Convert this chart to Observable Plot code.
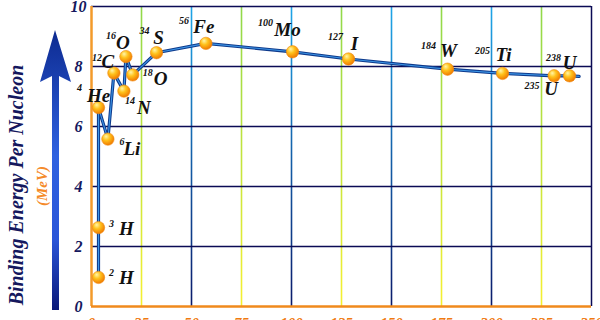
<!DOCTYPE html>
<html>
<head>
<meta charset="utf-8">
<script src="https://cdn.jsdelivr.net/npm/d3@7"></script>
<script src="https://cdn.jsdelivr.net/npm/@observablehq/plot@0.6"></script>
<style>
  html, body { margin: 0; padding: 0; background: #fff; overflow: hidden; }
  #chart svg { display: block; overflow: hidden; }
</style>
</head>
<body>
<div id="chart"></div>
<script>
// ---- data ----
const symbols     = ["H", "H", "He", "Li", "C", "N", "O", "O", "S", "Fe", "Mo", "I", "W", "Ti", "U", "U"];
const massNumbers = ["2", "3", "4", "6", "12", "14", "16", "18", "34", "56", "100", "127", "184", "205", "235", "238"];
const xValues     = [3.5, 3.5, 3.5, 8.2, 11.2, 16.2, 17.2, 20.6, 32.5, 57.2, 100.5, 128.5, 178, 205.5, 231.3, 239];
const yValues     = [0.97, 2.63, 6.63, 5.58, 7.78, 7.18, 8.33, 7.72, 8.46, 8.77, 8.49, 8.25, 7.91, 7.77, 7.69, 7.69];
const curveTailX  = [243.8];
const curveTailY  = [7.67];
const xTicks      = [0, 25, 50, 75, 100, 125, 150, 175, 200, 225, 250];
const yTicks      = [0, 2, 4, 6, 8, 10];
const greenGrid   = [25, 75, 125, 175, 225];
const blueGrid    = [50, 100, 150, 200];
const navyGridY   = [2, 4, 6, 8, 10];

// ---- label layout (pixel offsets from each dot) ----
const numOffsets = [[13,-5],[13,-4],[-19,-20],[14,3],[-17,-15],[6,10],[-15,-21],[15,-2],[-12,-22],[-22,-23],[-27,-29],[-13,-22],[-19,-23],[-20,-23],[-22,10],[-16,-18]];
const symOffsets = [[28,1],[28,1],[0,-12],[24,10],[-6,-11],[20,17],[-3,-14],[28,4],[2,-15],[-2,-16],[-5,-22],[6,-15],[1,-18],[1,-18],[-3,13],[0,-13]];

const idx = symbols.map((_, i) => i);
const lineX = xValues.concat(curveTailX);
const lineY = yValues.concat(curveTailY);
const lineIdx = lineX.map((_, i) => i);

const labelFont = "'Liberation Serif', 'DejaVu Serif', serif";
const navy = "#15185e";
const orange = "#f07a12";

const labelMarks = [];
idx.forEach(i => {
  labelMarks.push(Plot.text([i], {
    x: j => xValues[j], y: j => yValues[j], text: j => massNumbers[j],
    dx: numOffsets[i][0], dy: numOffsets[i][1],
    fontSize: 10, fontStyle: "italic", fontWeight: "bold", fill: "#111",
    fontFamily: labelFont, lineAnchor: "middle"
  }));
  labelMarks.push(Plot.text([i], {
    x: j => xValues[j], y: j => yValues[j], text: j => symbols[j],
    dx: symOffsets[i][0], dy: symOffsets[i][1],
    fontSize: 19, fontStyle: "italic", fontWeight: "bold", fill: "#111",
    fontFamily: labelFont, lineAnchor: "middle"
  }));
});

const chart = Plot.plot({
  width: 600,
  height: 320,
  marginLeft: 91,
  marginRight: 9,
  marginTop: 6,
  marginBottom: 14,
  style: {background: "#fff"},
  x: {domain: [0, 250], ticks: xTicks},
  y: {domain: [0, 10], ticks: yTicks},
  marks: [
    Plot.ruleX(greenGrid, {stroke: "url(#gridGreen)", strokeWidth: 1.6}),
    Plot.ruleX(blueGrid, {stroke: "url(#gridBlue)", strokeWidth: 1.6}),
    Plot.ruleY(navyGridY, {stroke: "#0b0b55", strokeWidth: 1.5}),
    Plot.ruleX([250], {stroke: "#0b0b55", strokeWidth: 1.5}),
    Plot.ruleX([0], {stroke: "#f39a2a", strokeWidth: 2.5}),
    Plot.ruleY([0], {stroke: "#f08a1c", strokeWidth: 2.5}),
    Plot.axisX({ticks: xTicks, tickSize: 0, tickPadding: 11, fill: orange, fontSize: 15,
      fontWeight: "bold", fontStyle: "italic", fontFamily: labelFont, label: null}),
    Plot.axisY({ticks: yTicks, tickSize: 0, tickPadding: 13, textAnchor: "middle", fill: navy,
      fontSize: 16, fontWeight: "bold", fontStyle: "italic", fontFamily: labelFont, label: null}),
    Plot.line(lineIdx, {x: i => lineX[i], y: i => lineY[i], stroke: "#0e3a8c", strokeWidth: 3.2}),
    Plot.line(lineIdx, {x: i => lineX[i], y: i => lineY[i], stroke: "#3d95e6", strokeWidth: 1.1}),
    Plot.dot(idx, {x: i => xValues[i], y: i => yValues[i], r: 6.2, fill: "url(#ball)", stroke: "#f08a10", strokeWidth: 0.6}),
    ...labelMarks
  ]
});

const svg = d3.select(chart);
const defs = svg.insert("defs", ":first-child");
const gGreen = defs.append("linearGradient").attr("id", "gridGreen")
  .attr("gradientUnits", "userSpaceOnUse").attr("x1", 0).attr("x2", 0).attr("y1", 6).attr("y2", 306);
gGreen.append("stop").attr("offset", "0%").attr("stop-color", "#8fd84a");
gGreen.append("stop").attr("offset", "100%").attr("stop-color", "#f6f030");
const gBlue = defs.append("linearGradient").attr("id", "gridBlue")
  .attr("gradientUnits", "userSpaceOnUse").attr("x1", 0).attr("x2", 0).attr("y1", 6).attr("y2", 306);
gBlue.append("stop").attr("offset", "0%").attr("stop-color", "#1fa6e8");
gBlue.append("stop").attr("offset", "100%").attr("stop-color", "#0a1a6a");
const ball = defs.append("radialGradient").attr("id", "ball")
  .attr("cx", "40%").attr("cy", "35%").attr("r", "65%").attr("fx", "35%").attr("fy", "28%");
ball.append("stop").attr("offset", "0%").attr("stop-color", "#fff6a8");
ball.append("stop").attr("offset", "45%").attr("stop-color", "#ffc21c");
ball.append("stop").attr("offset", "100%").attr("stop-color", "#f07a00");
const arrowGrad = defs.append("linearGradient").attr("id", "arrowGrad")
  .attr("gradientUnits", "userSpaceOnUse").attr("x1", 0).attr("x2", 0).attr("y1", 30).attr("y2", 310);
arrowGrad.append("stop").attr("offset", "0%").attr("stop-color", "#0d2a90");
arrowGrad.append("stop").attr("offset", "45%").attr("stop-color", "#2f62e0");
arrowGrad.append("stop").attr("offset", "75%").attr("stop-color", "#2a55d8");
arrowGrad.append("stop").attr("offset", "100%").attr("stop-color", "#0a1878");

// decorative arrow beside the y axis
svg.append("path")
  .attr("d", "M52,310 L52,76 L40,82 L55,30 L71,82 L59,76 L59,310 Z")
  .attr("fill", "url(#arrowGrad)");

// axis titles
svg.append("text")
  .attr("transform", "translate(18,185) rotate(-90)")
  .attr("text-anchor", "middle").attr("dominant-baseline", "middle")
  .attr("font-family", labelFont).attr("font-style", "italic").attr("font-weight", "bold")
  .attr("font-size", 20).attr("fill", navy)
  .text("Binding Energy Per Nucleon");
svg.append("text")
  .attr("transform", "translate(44,186) rotate(-90)")
  .attr("text-anchor", "middle").attr("dominant-baseline", "middle")
  .attr("font-family", labelFont).attr("font-style", "italic").attr("font-weight", "bold")
  .attr("font-size", 15).attr("fill", "#f58a2a")
  .text("(MeV)");

document.getElementById("chart").appendChild(chart);
</script>
</body>
</html>
